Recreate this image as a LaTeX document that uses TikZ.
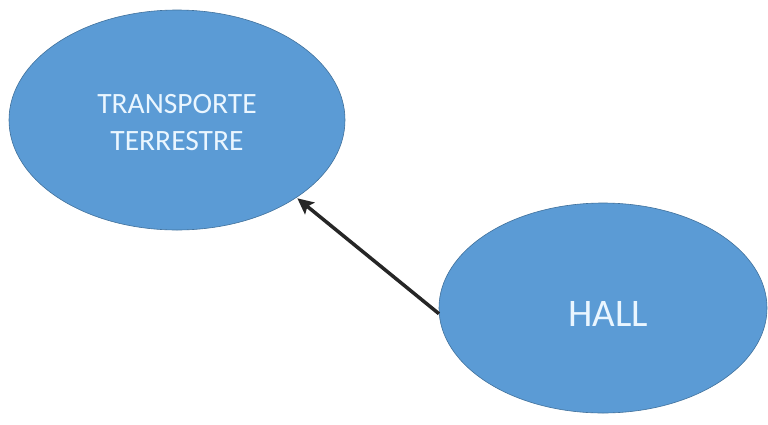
\documentclass[tikz,border=0pt]{standalone}
\usepackage{fontspec}
\setmainfont{Carlito}
\usetikzlibrary{shapes.geometric,arrows.meta}
\definecolor{fillblue}{HTML}{5B9BD5}
\definecolor{edgeblue}{HTML}{41719C}
\definecolor{txt}{HTML}{EAF6FF}
\tikzset{
  bubble/.style={ellipse, draw=edgeblue, line width=0.6pt, fill=fillblue, inner sep=0pt, text=txt, align=center},
  link/.style={line width=3.5pt, draw=black!85, -{Stealth[length=16pt,width=15pt,inset=3pt]}, shorten >=1pt}
}
\begin{document}
\begin{tikzpicture}[x=1pt,y=-1pt]
\useasboundingbox (0,0) rectangle (768,424);
\node[bubble, minimum width=336pt, minimum height=220pt, font=\fontsize{29.5}{37}\selectfont] (tr) at (177,120) {\raisebox{0pt}[\dimexpr\height+6pt\relax][\depth]{\parbox{200pt}{\centering TRANSPORTE\\TERRESTRE}}};
\node[bubble, minimum width=328pt, minimum height=210pt, font=\fontsize{39}{44}\selectfont] (hall) at (603,308) {\raisebox{0pt}[\dimexpr\height+12pt\relax][\depth]{\hspace*{10pt}HALL}};
\draw[link] (hall.182) -- (tr.-33);
\end{tikzpicture}
\end{document}
